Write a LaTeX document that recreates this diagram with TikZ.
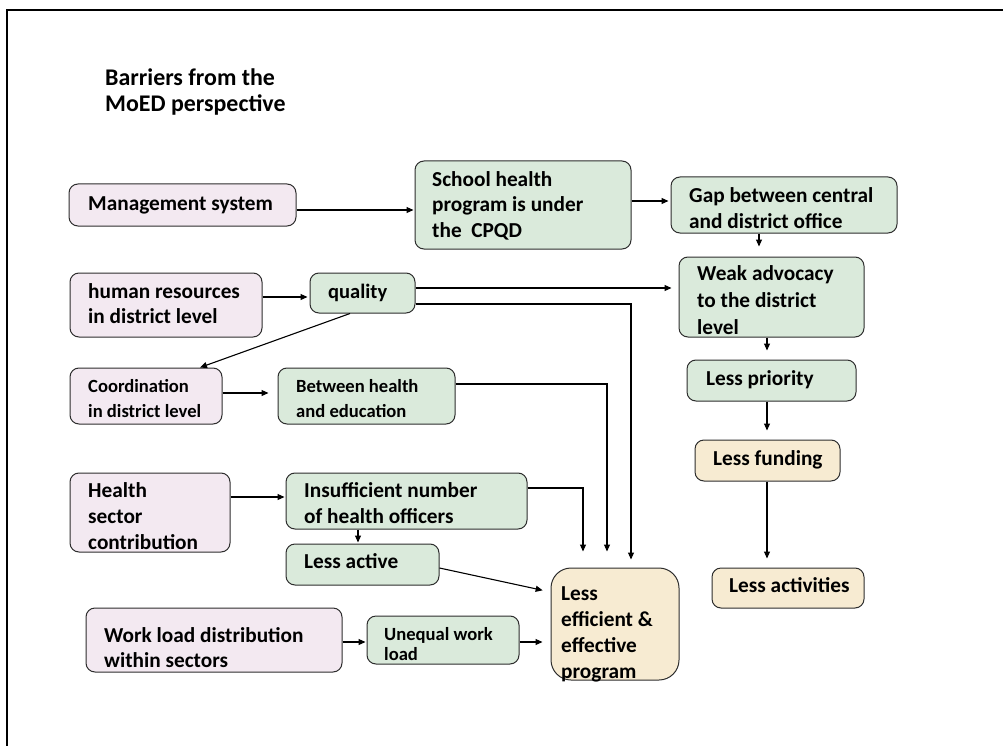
\documentclass[tikz,border=0pt]{standalone}
\usepackage{fontspec}
\setmainfont{Carlito}[BoldFont={* Bold}]
\usetikzlibrary{arrows.meta,fit}

\definecolor{pinkfill}{RGB}{243,233,241}
\definecolor{greenfill}{RGB}{218,234,219}
\definecolor{tanfill}{RGB}{247,235,210}
\definecolor{edgecol}{RGB}{45,45,45}

\tikzset{
  box/.style={draw=edgecol, line width=1pt, rounded corners=9pt, inner sep=0pt},
  pinkbox/.style={box, fill=pinkfill},
  greenbox/.style={box, fill=greenfill},
  tanbox/.style={box, fill=tanfill},
  % texts are anchored at the baseline of their last line
  txt/.style={anchor=base west, inner sep=0pt, align=left,
    font=\bfseries\fontsize{21.3}{26}\selectfont},
  smalltxt/.style={txt, font=\bfseries\fontsize{18.6}{25}\selectfont},
  titletxt/.style={txt, font=\bfseries\fontsize{23.9}{26}\selectfont},
  link/.style={-{Triangle[length=7pt,width=6pt]}, line width=1.1pt, draw=black},
}

\begin{document}
\begin{tikzpicture}[x=1pt,y=-1pt]
\useasboundingbox (0,0) rectangle (1003,746);

% page frame (top and left edges)
\draw[line width=2pt] (7,746) -- (7,10.5) -- (1003,10.5);

% heading
\node[titletxt] (title) at (105,112) {Barriers from the\\MoED perspective};

% boxes
\node[pinkbox,  fit={(69,184)(296,226)}]  (mgmt)  {};
\node[greenbox, fit={(415,161)(631,249)}] (school) {};
\node[greenbox, fit={(671,177)(897,233)}] (gap)   {};
\node[greenbox, fit={(679,257)(864,337)}] (weak)  {};
\node[greenbox, fit={(687,360)(856,401)}] (prio)  {};
\node[tanbox,   fit={(695,440)(840,481)}] (fund)  {};
\node[tanbox,   fit={(712,568)(864,608)}] (acts)  {};
\node[tanbox,   fit={(551,568)(679,680)}, rounded corners=20pt] (eff) {};
\node[pinkbox,  fit={(70,273)(262,337)}]  (hr)    {};
\node[greenbox, fit={(310,273)(415,313)}] (qual)  {};
\node[pinkbox,  fit={(70,368)(222,424)}]  (coord) {};
\node[greenbox, fit={(278,368)(455,424)}] (betw)  {};
\node[pinkbox,  fit={(70,473)(230,552)}]  (hsec)  {};
\node[greenbox, fit={(286,473)(527,529)}] (insuf) {};
\node[greenbox, fit={(286,544)(439,585)}] (lact)  {};
\node[pinkbox,  fit={(86,608)(342,672)}]  (work)  {};
\node[greenbox, fit={(367,616)(519,664)}] (uneq)  {};

% box texts
\node[txt] (mgmt-t)   at (88,211)  {Management system};
\node[txt, font=\bfseries\fontsize{21.3}{25.5}\selectfont] (school-t) at (432,237) {School health\\program is under\\the\ \ CPQD};
\node[txt, font=\bfseries\fontsize{21.3}{25}\selectfont] (gap-t) at (689,228) {Gap between central\\and district office};
\node[txt, font=\bfseries\fontsize{21.3}{27}\selectfont] (weak-t) at (697,334) {Weak advocacy\\to the district\\level};
\node[txt] (prio-t)   at (706,385) {Less priority};
\node[txt] (fund-t)   at (713,465) {Less funding};
\node[txt] (acts-t)   at (729,592) {Less activities};
\node[txt] (eff-t)    at (561,678) {Less\\efficient \&\\effective\\program};
\node[txt, font=\bfseries\fontsize{21.3}{25}\selectfont] (hr-t) at (88,323) {human resources\\in district level};
\node[txt, font=\bfseries\fontsize{20.5}{26}\selectfont] (qual-t) at (328,298) {quality};
\node[smalltxt] (coord-t) at (88,417)  {Coordination\\in district level};
\node[smalltxt] (betw-t)  at (296,417) {Between health\\and education};
\node[txt] (hsec-t)   at (88,549)  {Health\\sector\\contribution};
\node[txt] (insuf-t)  at (304,523) {Insufficient number\\of health officers};
\node[txt] (lact-t)   at (304,568) {Less active};
\node[txt, font=\bfseries\fontsize{21.3}{25}\selectfont] (work-t) at (104,667) {Work load distribution\\within sectors};
\node[smalltxt, font=\bfseries\fontsize{18.6}{20}\selectfont] (uneq-t) at (384,660) {Unequal work\\load};

% connectors
\draw[link, shorten >=1pt] (mgmt.east |- 0,210) -- (school.west |- 0,210);
\draw[link, shorten >=2pt] (school.east |- 0,201) -- (gap.west |- 0,201);
\draw[link, shorten >=10pt] (759,0 |- gap.south) -- (759,0 |- weak.north);
\draw[link, shorten >=9pt] (767,0 |- weak.south) -- (767,0 |- prio.north);
\draw[link, shorten >=9pt] (767,0 |- prio.south) -- (767,0 |- fund.north);
\draw[link, shorten >=9pt] (767,0 |- fund.south) -- (767,0 |- acts.north);

\draw[link, shorten >=2pt] (hr.east |- 0,297) -- (qual.west |- 0,297);
\draw[link] (350,0 |- qual.south) -- (200,0 |- coord.north);
\draw[link, shorten >=7pt] (qual.east |- 0,288) -- (weak.west |- 0,288);
\draw[link, shorten >=8pt] (qual.east |- 0,304) -| (631,0 |- eff.north);

\draw[link, shorten >=9pt] (coord.east |- 0,393) -- (betw.west |- 0,393);
\draw[link, shorten >=16pt] (betw.east |- 0,384) -| (607,0 |- eff.north);

\draw[link, shorten >=1pt] (hsec.east |- 0,497) -- (insuf.west |- 0,497);
\draw[link, shorten >=16pt] (insuf.east |- 0,488) -| (583,0 |- eff.north);
\draw[link, shorten >=1pt] (358,0 |- insuf.south) -- (358,0 |- lact.north);
\draw[link, shorten >=8pt] (lact.east |- 0,568) -- (eff.west |- 0,592);

\draw[link, shorten >=1pt] (work.east |- 0,642) -- (uneq.west |- 0,642);
\draw[link, shorten >=8pt] (uneq.east |- 0,642) -- (eff.west |- 0,642);
\end{tikzpicture}
\end{document}
